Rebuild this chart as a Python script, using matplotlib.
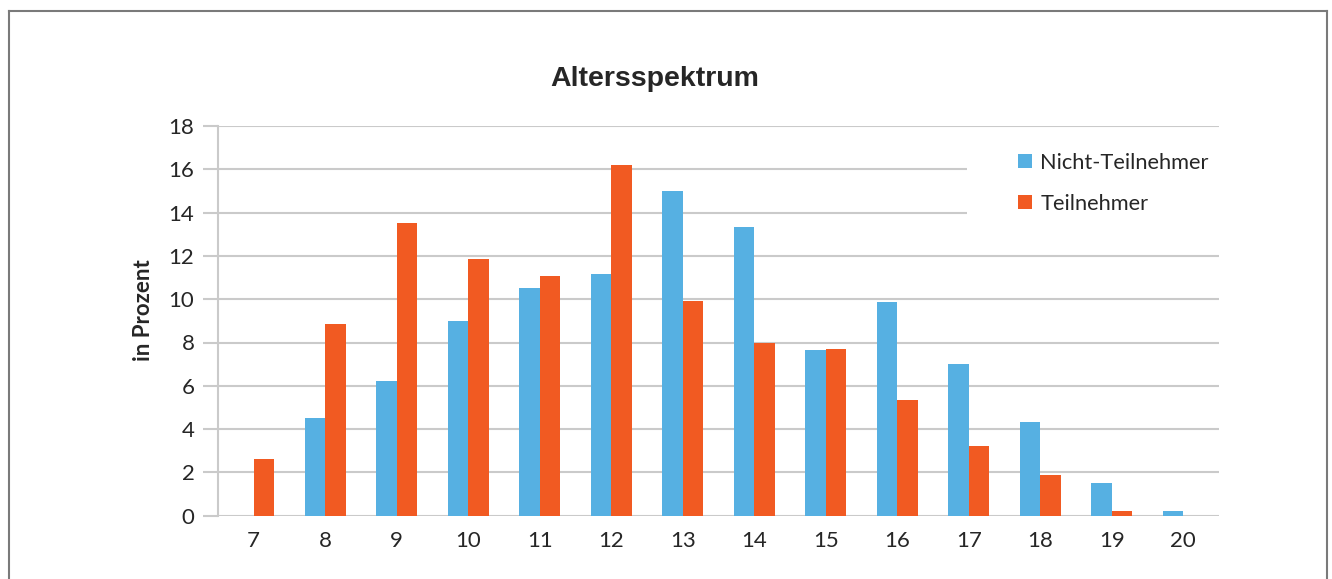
import matplotlib
matplotlib.use("Agg")
import matplotlib.pyplot as plt
from matplotlib.patches import Rectangle
from matplotlib.lines import Line2D
import numpy as np

# Altersgruppen (Jahre)
ages = ["7", "8", "9", "10", "11", "12", "13", "14", "15", "16", "17", "18", "19", "20"]
# Anteile in Prozent
nicht_teilnehmer = [0.0, 4.5, 6.2, 9.0, 10.5, 11.15, 15.0, 13.35, 7.65, 9.85, 7.0, 4.35, 1.5, 0.2]
teilnehmer = [2.6, 8.85, 13.5, 11.85, 11.05, 16.2, 9.9, 8.0, 7.7, 5.35, 3.2, 1.9, 0.2, 0.0]
series_labels = ["Nicht-Teilnehmer", "Teilnehmer"]
y_ticks = [0, 2, 4, 6, 8, 10, 12, 14, 16, 18]

BLUE = "#56B0E2"
ORANGE = "#F15A22"
GRID = "#CACACA"
TEXT = "#262626"

W, H = 1332, 579
fig = plt.figure(figsize=(W / 100, H / 100), dpi=100)
fig.patch.set_facecolor("white")

# outer frame (left, top, right)
frame_kw = dict(color="#7A7A7A", lw=1.5, transform=fig.transFigure)
x0, x1, ytop = 8.5 / W, 1326.5 / W, 1 - 11 / H
fig.add_artist(Line2D([x0, x0], [0, ytop], **frame_kw))
fig.add_artist(Line2D([x0, x1], [ytop, ytop], **frame_kw))
fig.add_artist(Line2D([x1, x1], [0, ytop], **frame_kw))

left, right = 218 / W, 1219 / W
bottom, top = 1 - 515.7 / H, 1 - 126 / H
ax = fig.add_axes([left, bottom, right - left, top - bottom])

x = np.arange(len(ages))
bw = 0.29
ax.bar(x - bw / 2, nicht_teilnehmer, width=bw, color=BLUE, label=series_labels[0], zorder=2)
ax.bar(x + bw / 2, teilnehmer, width=bw, color=ORANGE, label=series_labels[1], zorder=2)

ax.set_xlim(-0.5, len(ages) - 0.5)
ax.set_ylim(0, 18)
ax.set_yticks(y_ticks)
ax.set_xticks(x)
ax.set_xticklabels(ages)

ax.set_axisbelow(True)
ax.yaxis.grid(True, color=GRID, lw=1.5)
for s in ["top", "right", "bottom"]:
    ax.spines[s].set_visible(False)
ax.spines["left"].set_color(GRID)
ax.spines["left"].set_linewidth(1.5)

ax.tick_params(axis="y", length=11, width=1.5, color=GRID, pad=6,
               labelsize=16, labelcolor=TEXT)
ax.tick_params(axis="x", length=0, pad=11, labelsize=16, labelcolor=TEXT)
for lab in ax.get_xticklabels() + ax.get_yticklabels():
    lab.set_fontfamily("Lato")

ax.set_ylabel("in Prozent", fontsize=16, fontweight="bold", family="Lato", color=TEXT)
ax.yaxis.set_label_coords((143 - 218) / 1001, (515.7 - 310) / 389.7)
ax.yaxis.label.set_va("center")

fig.text((551 + 759) / 2 / W, 1 - 79 / H, "Altersspektrum", ha="center", va="center",
         fontsize=20.5, fontweight="bold", family="Liberation Sans", color=TEXT)

# white area behind the legend
ax.add_patch(Rectangle(((967 - 218) / 1001, (515.7 - 232) / 389.7),
                       (1219 - 967) / 1001 + 0.01, (232 - 140) / 389.7,
                       transform=ax.transAxes, facecolor="white", edgecolor="none",
                       zorder=1, clip_on=False))

leg = ax.legend(loc="upper left",
                bbox_to_anchor=((1018 - 218) / 1001, (515.7 - 153) / 389.7),
                frameon=False, borderpad=0, borderaxespad=0,
                handlelength=0.62, handleheight=0.62, handletextpad=0.4,
                labelspacing=0.95, prop={"family": "Lato", "size": 15.7})
for t in leg.get_texts():
    t.set_color(TEXT)

fig.savefig("out.png", dpi=100, facecolor="white")
